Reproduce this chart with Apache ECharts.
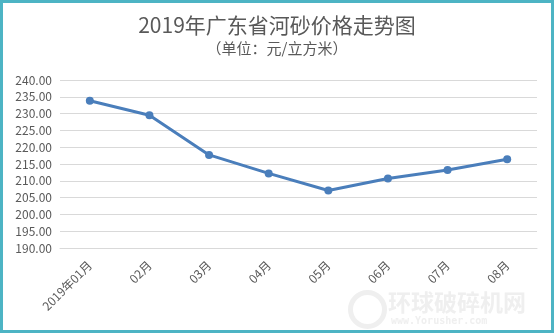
<!DOCTYPE html>
<html><head><meta charset="utf-8">
<script src="https://cdn.jsdelivr.net/npm/echarts@6/dist/echarts.min.js"></script>
<style>
html,body{margin:0;padding:0;background:#fff;}
#frame{position:absolute;left:0;top:0;width:548px;height:327px;border:3px solid #4db4c4;background:#fff;}
#c{position:absolute;left:0;top:0;width:548px;height:327px;}
</style></head>
<body><div id="frame"><div id="c"></div></div>
<script>
const categories = ['2019年01月','02月','03月','04月','05月','06月','07月','08月'];
const prices = [233.8, 229.5, 217.7, 212.2, 207.1, 210.7, 213.2, 216.4];
const titleText = '2019年广东省河砂价格走势图';
const subtitleText = '（单位：元/立方米）';
const watermarkCn = '环球破碎机网';
const watermarkUrl = 'www.Yorusher.com';
const yMin = 190, yMax = 240, yStep = 5;

const chart = echarts.init(document.getElementById('c'));
const font = '"Noto Sans CJK SC", "Microsoft YaHei", sans-serif';
chart.setOption({
  animation:false,
  backgroundColor:'#fff',
  title:{
    text:titleText, subtext:subtitleText, left:'center', top:7, itemGap:5,
    textStyle:{fontFamily:font,fontSize:21,fontWeight:'normal',color:'#595959'},
    subtextStyle:{fontFamily:font,fontSize:15,color:'#595959'}
  },
  graphic:[
    {type:'circle',left:345,top:287,shape:{r:17},style:{fill:'none',stroke:'#efefef',lineWidth:5},z:-1},
    {type:'text',left:385,top:288,style:{text:watermarkCn,fontFamily:font,fontSize:23,fontWeight:'bold',fill:'#efefef',letterSpacing:3},z:-1},
    {type:'text',left:388,top:313,style:{text:watermarkUrl,fontFamily:'"DejaVu Sans Mono", monospace',fontSize:10,fontWeight:'bold',fill:'#efefef',letterSpacing:1},z:-1}
  ],
  grid:{left:57,right:14,top:77,bottom:82,containLabel:false},
  xAxis:{
    type:'category', data:categories, boundaryGap:true,
    axisLine:{show:true,lineStyle:{color:'#d9d9d9'}},
    axisTick:{show:false},
    axisLabel:{rotate:45,color:'#595959',fontFamily:font,fontSize:12,margin:15,interval:0}
  },
  yAxis:{
    type:'value', min:yMin, max:yMax, interval:yStep,
    axisLine:{show:false}, axisTick:{show:false},
    axisLabel:{color:'#595959',fontFamily:font,fontSize:12,margin:8,formatter:v=>v.toFixed(2)},
    splitLine:{lineStyle:{color:'#d9d9d9',width:1}}
  },
  series:[{
    type:'line', data:prices, symbol:'circle', symbolSize:8,
    lineStyle:{color:'#4a7ebb',width:3}, itemStyle:{color:'#4a7ebb'}
  }]
});
</script></body></html>
